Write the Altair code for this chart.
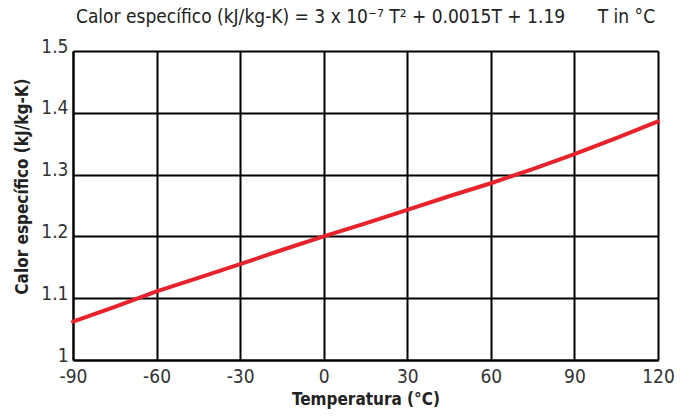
import altair as alt
import pandas as pd

# values
temps = [-90, -75, -60, -45, -30, -15, 0, 15, 30, 45, 60, 75, 90, 105, 120]
cp = [1.062, 1.086, 1.111, 1.133, 1.155, 1.178, 1.200, 1.221, 1.243, 1.265, 1.286, 1.309, 1.333, 1.359, 1.386]
x_ticks = [-90, -60, -30, 0, 30, 60, 90, 120]
y_ticks = [1.0, 1.1, 1.2, 1.3, 1.4, 1.5]

df = pd.DataFrame({"T": temps, "cp": cp})

FONT = "DejaVu Sans Condensed, Liberation Sans Narrow, Liberation Sans, sans-serif"

title_text = "Calor específico (kJ/kg-K) = 3 x 10⁻⁷ T² + 0.0015T + 1.19" + "\u00a0" * 6 + "T in °C"

chart = alt.Chart(df).mark_line(color="#e8222b", strokeWidth=4, strokeCap="round").encode(
    x=alt.X("T:Q", scale=alt.Scale(domain=[-90, 120], nice=False),
            axis=alt.Axis(values=x_ticks, title="Temperatura (°C)",
                          labelExpr="'' + datum.value", labelFlush=False,
                          labelFontSize=19, labelColor="#333333", labelFont=FONT,
                          titleFont=FONT, titleFontSize=17, titleFontWeight="bold",
                          titleColor="#222222", titlePadding=5,
                          grid=True, gridColor="#000000", gridWidth=2,
                          domainColor="#000000", domainWidth=2, ticks=False, labelPadding=7)),
    y=alt.Y("cp:Q", scale=alt.Scale(domain=[1.0, 1.5], nice=False, zero=False),
            axis=alt.Axis(values=y_ticks, title="Calor específico (kJ/kg-K)", format="~g",
                          labelFlush=False, labelBaseline="alphabetic", labelOffset=1,
                          labelFontSize=19, labelColor="#333333", labelFont=FONT,
                          titleFont=FONT, titleFontSize=17, titleFontWeight="bold",
                          titleColor="#222222", titleX=-42, titleY=135,
                          grid=True, gridColor="#000000", gridWidth=2,
                          domainColor="#000000", domainWidth=2, ticks=False, labelPadding=5)),
).properties(
    width=585, height=309,
    title=alt.Title(title_text,
                    font=FONT, fontSize=19, fontWeight="normal", color="#222222",
                    anchor="middle", offset=10),
    autosize=alt.AutoSizeParams(type="none"),
    padding={"left": 73, "top": 51, "right": 28, "bottom": 57},
).configure_view(stroke="#000000", strokeWidth=2).configure(background="white")

chart.save("out.html", embed_options={"renderer": "svg", "actions": False})
